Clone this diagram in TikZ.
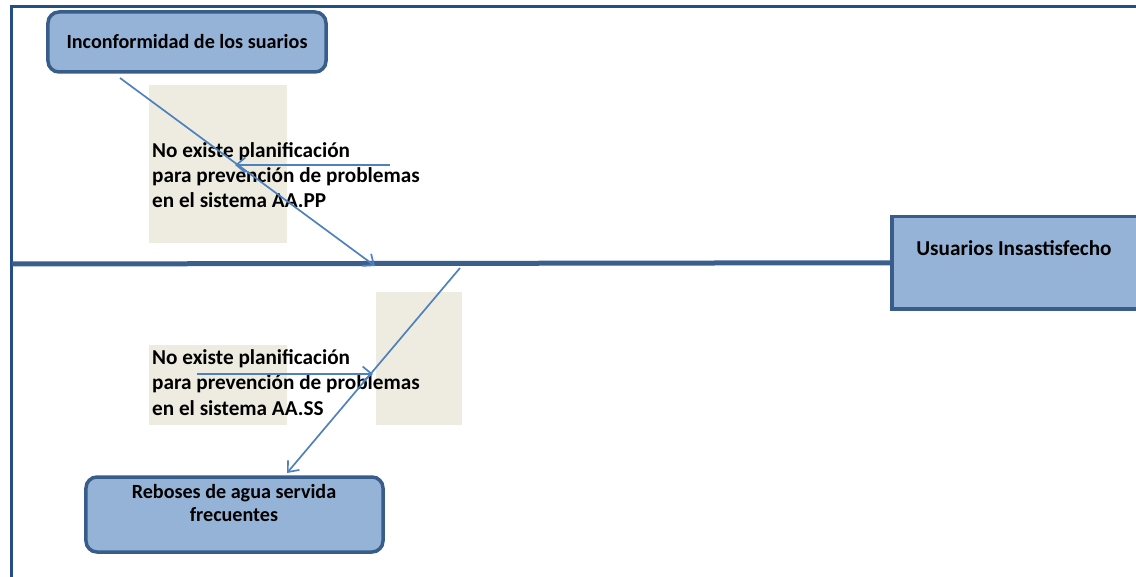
\documentclass[tikz,border=0pt]{standalone}
\usepackage{fontspec}
\setmainfont{Carlito}
\usetikzlibrary{arrows.meta}
\definecolor{framec}{RGB}{35,78,135}
\definecolor{spinec}{RGB}{59,95,140}
\definecolor{boxfill}{RGB}{149,179,215}
\definecolor{boxline}{RGB}{56,93,138}
\definecolor{beige}{RGB}{238,236,225}
\definecolor{arrowc}{RGB}{79,129,189}
\tikzset{
  causebox/.style={draw=boxline, fill=boxfill, line width=3.5bp, rounded corners=11bp, inner sep=0pt},
  effectbox/.style={draw=boxline, fill=boxfill, line width=3.5bp, inner sep=0pt},
  note/.style={fill=beige, draw=none, inner sep=0pt},
  lbl/.style={font=\bfseries\fontsize{20.2}{23}\selectfont, inner sep=0pt},
  biglbl/.style={font=\bfseries\fontsize{21.3}{25.5}\selectfont, inner sep=0pt},
  link/.style={draw=arrowc, line width=1.7bp, -{Straight Barb[length=9bp,width=15bp,line width=1.7bp]}},
}
\begin{document}
\begin{tikzpicture}[x=1bp,y=-1bp]
\useasboundingbox (0,0) rectangle (1136,577);
\clip (0,0) rectangle (1136,577);
% frame
\draw[framec, line width=3bp] (11.5,579) -- (11.5,7) -- (1140,7);
% shaded note panels
\node[note, minimum width=138bp, minimum height=158bp] (p1) at (218,164) {};
\node[note, minimum width=86bp, minimum height=133bp] (p2) at (419,358.5) {};
\node[note, minimum width=138bp, minimum height=80bp] (p3) at (218,385) {};
% spine
\coordinate (s0) at (12,264);
\node[effectbox, minimum width=260bp, minimum height=92bp, anchor=north west] (eff) at (890,215) {};
\draw[spinec, line width=5bp] (s0) -- (eff.west);
\node[biglbl, anchor=base] (efft) at (1014,256) {Usuarios Insastisfecho};
% cause boxes
\node[causebox, minimum width=278bp, minimum height=60bp] (c1) at (187,42) {};
\node[lbl, anchor=base] (c1t) at (187,49) {Inconformidad de los suarios};
\node[causebox, minimum width=297bp, minimum height=75bp] (c2) at (234.5,514.5) {};
\node[lbl, anchor=base, align=center] (c2t) at (234,521) {Reboses de agua servida\\frecuentes};
% sub-cause texts (base anchor sits on the last line)
\node[biglbl, anchor=base west, align=left] (t1) at (152,208) {No existe planificación\\para prevención de problemas\\en el sistema AA.PP};
\node[biglbl, anchor=base west, align=left] (t2) at (152,415) {No existe planificación\\para prevención de problemas\\en el sistema AA.SS};
% connectors
\coordinate (a1s) at (120,78);
\coordinate (a1e) at (375,266);
\coordinate (b1s) at (390,165);
\coordinate (b1e) at (235,165);
\coordinate (a2s) at (460,268);
\coordinate (a2e) at (287,473);
\coordinate (b2s) at (197,374);
\coordinate (b2e) at (373,374);
\draw[link] (a1s) -- (a1e);
\draw[link] (b1s) -- (b1e);
\draw[link] (a2s) -- (a2e);
\draw[link] (b2s) -- (b2e);
\end{tikzpicture}
\end{document}
